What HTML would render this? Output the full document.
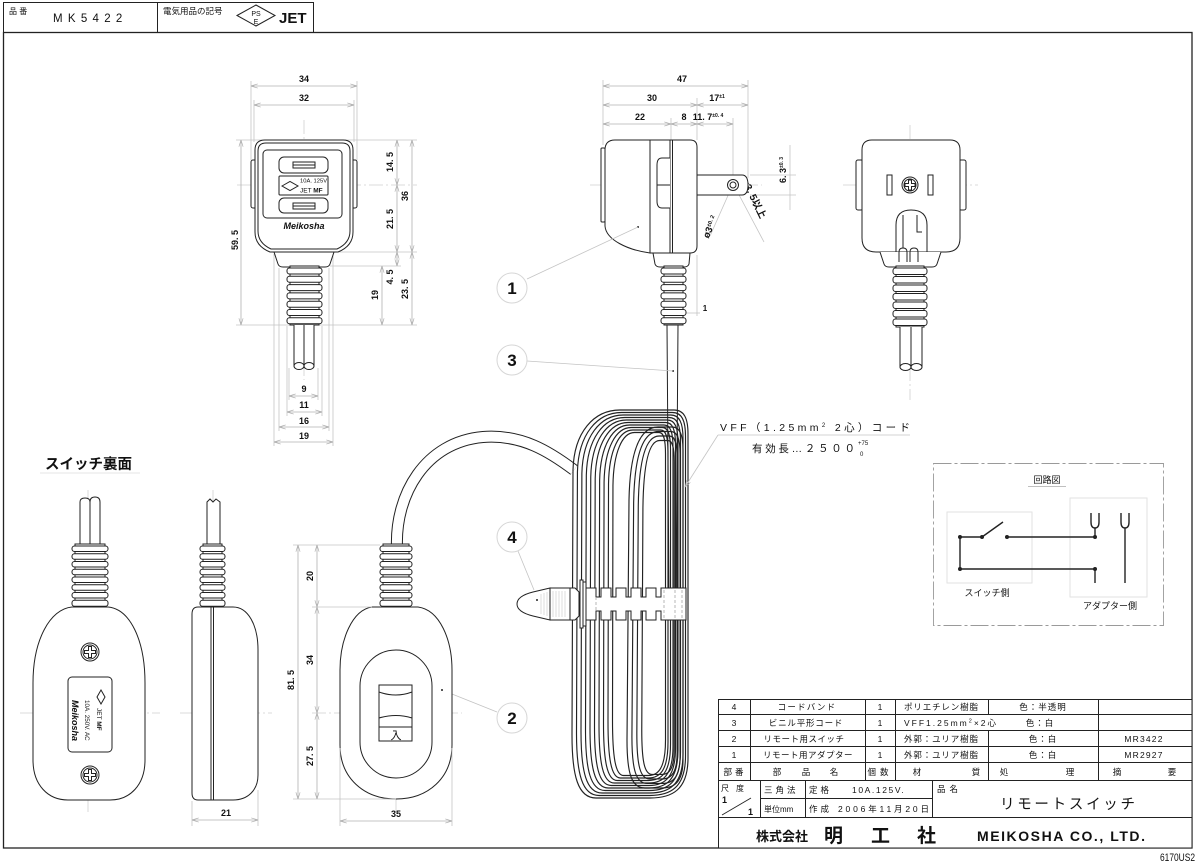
<!DOCTYPE html>
<html><head><meta charset="utf-8"><title>MK5422</title>
<style>
html,body{margin:0;padding:0;background:#fff;width:1200px;height:864px;overflow:hidden}
svg{display:block}
text{font-family:"Liberation Sans","Noto Sans CJK JP",sans-serif;fill:#111}
.k{fill:none;stroke:#222;stroke-width:1}
.kw{fill:#fff;stroke:#222;stroke-width:1}
.g{fill:none;stroke:#c4c4c4;stroke-width:0.8}
.cl{fill:none;stroke:#cfcfcf;stroke-width:0.8;stroke-dasharray:14 3 2 3}
.dm{fill:none;stroke:#b0b0b0;stroke-width:0.8;marker-start:url(#a);marker-end:url(#a)}
.d{font-size:9px;font-weight:bold;text-anchor:middle}
.t{font-size:8.5px;text-anchor:middle}
.ts{font-size:8.5px}
.bl{fill:#fff;stroke:#d6d6d6;stroke-width:1}
.bn{font-size:17px;font-weight:bold;text-anchor:middle}
</style></head><body>
<svg width="1200" height="864" viewBox="0 0 1200 864" xmlns="http://www.w3.org/2000/svg">
<defs>
<marker id="a" viewBox="0 0 8 6" refX="8" refY="3" markerWidth="7" markerHeight="5" orient="auto-start-reverse" markerUnits="userSpaceOnUse"><path d="M0,0.5L8,3L0,5.5" fill="none" stroke="#aaa" stroke-width="0.8"/></marker>
<path id="lp" d="M572,735 L573,470 C574,432 594,410 620,410 L674,410 C684,410 688,418 688,434 L688,758 C688,790 672,798 650,798 L596,798 C578,798 572,776 572,735Z" fill="none" stroke="#222" stroke-width="1.15" vector-effect="non-scaling-stroke"/>
<path id="lp2" d="M627,740 L629,500 C630,450 640,427 658,427 L672,427 C680,427 683,435 683,450 L683,760 C683,780 676,788 662,788 L645,788 C632,788 627,775 627,740Z" fill="none" stroke="#222" stroke-width="1.15" vector-effect="non-scaling-stroke"/>
</defs>

<!-- frame & header -->
<rect x="3.5" y="32.5" width="1188.5" height="815.5" fill="none" stroke="#222" stroke-width="1.3"/>
<rect x="3.5" y="2.5" width="310" height="30" class="k"/>
<line x1="157.5" y1="2.5" x2="157.5" y2="32.5" class="k"/>
<text x="9" y="14" style="font-size:8px">品 番</text>
<text x="53" y="22" style="font-size:11.5px;letter-spacing:5.3px">MK5422</text>
<text x="163" y="14" style="font-size:8.5px">電気用品の記号</text>
<polygon points="237,15.5 256,5 275,15.5 256,26" class="k"/>
<text x="256" y="16" style="font-size:7px" text-anchor="middle">PS</text>
<text x="256" y="24" style="font-size:7px" text-anchor="middle">E</text>
<text x="279" y="23" style="font-size:15px;font-weight:bold">JET</text>

<!-- ===== View A: adapter front ===== -->
<line class="cl" x1="304" y1="120" x2="304" y2="380"/>
<line class="cl" x1="237" y1="185" x2="417" y2="185"/>
<line class="g" x1="251" y1="81" x2="251" y2="160"/>
<line class="g" x1="357" y1="81" x2="357" y2="160"/>
<line class="g" x1="254" y1="100" x2="254" y2="142"/>
<line class="g" x1="354" y1="100" x2="354" y2="142"/>
<line class="dm" x1="251" y1="86" x2="357" y2="86"/>
<line class="dm" x1="254" y1="105" x2="354" y2="105"/>
<text class="d" x="304" y="82">34</text>
<text class="d" x="304" y="101">32</text>
<line class="g" x1="236" y1="140" x2="262" y2="140"/>
<line class="g" x1="345" y1="140" x2="417" y2="140"/>
<line class="g" x1="332" y1="252" x2="417" y2="252"/>
<line class="g" x1="330" y1="266" x2="401" y2="266"/>
<line class="g" x1="236" y1="325" x2="290" y2="325"/>
<line class="g" x1="318" y1="325" x2="417" y2="325"/>
<line class="dm" x1="241" y1="140" x2="241" y2="325"/>
<text class="d" transform="translate(238,240) rotate(-90)">59. 5</text>
<line class="dm" x1="397" y1="140" x2="397" y2="185"/>
<line class="dm" x1="397" y1="185" x2="397" y2="252"/>
<line class="dm" x1="397" y1="252" x2="397" y2="266"/>
<line class="dm" x1="412" y1="140" x2="412" y2="252"/>
<line class="dm" x1="412" y1="252" x2="412" y2="325"/>
<line class="dm" x1="382" y1="266" x2="382" y2="325"/>
<text class="d" transform="translate(393,162) rotate(-90)">14. 5</text>
<text class="d" transform="translate(393,219) rotate(-90)">21. 5</text>
<text class="d" transform="translate(408,196) rotate(-90)">36</text>
<text class="d" transform="translate(393,277) rotate(-90)">4. 5</text>
<text class="d" transform="translate(408,289) rotate(-90)">23. 5</text>
<text class="d" transform="translate(378,295) rotate(-90)">19</text>
<line class="g" x1="289" y1="368" x2="289" y2="400"/>
<line class="g" x1="318" y1="368" x2="318" y2="400"/>
<line class="g" x1="287" y1="326" x2="287" y2="416"/>
<line class="g" x1="322" y1="326" x2="322" y2="416"/>
<line class="g" x1="279" y1="268" x2="279" y2="431"/>
<line class="g" x1="329" y1="268" x2="329" y2="431"/>
<line class="g" x1="274" y1="254" x2="274" y2="446"/>
<line class="g" x1="333" y1="254" x2="333" y2="446"/>
<line class="dm" x1="289" y1="396" x2="318" y2="396"/>
<line class="dm" x1="287" y1="412" x2="322" y2="412"/>
<line class="dm" x1="279" y1="427" x2="329" y2="427"/>
<line class="dm" x1="274" y1="442" x2="333" y2="442"/>
<text class="d" x="304" y="392">9</text>
<text class="d" x="304" y="408">11</text>
<text class="d" x="304" y="424">16</text>
<text class="d" x="304" y="439">19</text>

<!-- body A -->
<rect class="kw" x="251" y="160" width="6" height="48" rx="2"/>
<rect class="kw" x="351" y="160" width="6" height="48" rx="2"/>
<path class="kw" d="M265,140 H343 Q353,140 353,150 V232 Q353,246 338,252 H270 Q255,246 255,232 V150 Q255,140 265,140Z"/>
<path class="k" d="M266,143 H342 Q350,143 350,151 V231 Q350,243 337,249 H271 Q258,243 258,231 V151 Q258,143 266,143Z"/>
<rect class="k" x="263" y="150" width="79" height="68" rx="4"/>
<rect class="k" x="279" y="157" width="49" height="16" rx="5"/>
<rect class="k" x="293" y="162" width="22" height="6"/>
<line class="k" x1="293" y1="165" x2="315" y2="165"/>
<rect class="k" x="279" y="176" width="49" height="19" rx="1"/>
<polygon class="k" points="282,186 290,181.5 298,186 290,190.5" stroke-width="0.6"/>
<text x="300" y="182.5" style="font-size:5.8px">10A. 125V</text>
<text x="300" y="192.5" style="font-size:6.5px">JET <tspan font-weight="bold">MF</tspan></text>
<rect class="k" x="279" y="198" width="49" height="15" rx="5"/>
<rect class="k" x="293" y="203" width="22" height="6"/>
<line class="k" x1="293" y1="206" x2="315" y2="206"/>
<text x="304" y="229" style="font-size:9px;font-weight:bold;font-style:italic" text-anchor="middle">Meikosha</text>
<path class="kw" d="M274,252 L278,264 Q279,267 283,267 H325 Q329,267 330,264 L334,252Z"/>
<!-- bellows A -->
<rect class="kw" x="290" y="266" width="29" height="59"/>
<rect class="kw" x="287" y="268" width="35" height="6" rx="2.5"/>
<rect class="kw" x="287" y="276.3" width="35" height="6" rx="2.5"/>
<rect class="kw" x="287" y="284.6" width="35" height="6" rx="2.5"/>
<rect class="kw" x="287" y="292.9" width="35" height="6" rx="2.5"/>
<rect class="kw" x="287" y="301.2" width="35" height="6" rx="2.5"/>
<rect class="kw" x="287" y="309.5" width="35" height="6" rx="2.5"/>
<rect class="kw" x="287" y="317.8" width="35" height="6" rx="2.5"/>
<path class="kw" d="M294,325 V366 H314 V325"/>
<line class="k" x1="304" y1="325" x2="304" y2="366"/>
<ellipse class="kw" cx="299" cy="366" rx="5" ry="3.5"/>
<ellipse class="kw" cx="309" cy="366" rx="5" ry="3.5"/>

<!-- ===== View B: adapter side ===== -->
<line class="cl" x1="590" y1="185" x2="762" y2="185"/>
<line class="g" x1="603" y1="80" x2="603" y2="145"/>
<line class="g" x1="671" y1="118" x2="671" y2="140"/>
<line class="g" x1="697" y1="98" x2="697" y2="140"/>
<line class="g" x1="748" y1="80" x2="748" y2="178"/>
<line class="g" x1="733" y1="118" x2="733" y2="180"/>
<line class="dm" x1="603" y1="86" x2="748" y2="86"/>
<line class="dm" x1="603" y1="105" x2="697" y2="105"/>
<line class="dm" x1="697" y1="105" x2="748" y2="105"/>
<line class="dm" x1="603" y1="124" x2="671" y2="124"/>
<line class="dm" x1="671" y1="124" x2="697" y2="124"/>
<line class="dm" x1="697" y1="124" x2="733" y2="124"/>
<text class="d" x="682" y="82">47</text>
<text class="d" x="652" y="101">30</text>
<text class="d" x="717" y="101">17<tspan font-size="5" dy="-3">±1</tspan></text>
<text class="d" x="640" y="120">22</text>
<text class="d" x="684" y="120">8</text>
<text class="d" x="708" y="120" text-anchor="start">11. 7<tspan font-size="5" dy="-3">±0. 4</tspan></text>
<line class="g" x1="750" y1="175" x2="796" y2="175"/>
<line class="g" x1="750" y1="195" x2="796" y2="195"/>
<line class="g" x1="790" y1="145" x2="790" y2="210"/>
<text class="d" transform="translate(786,170) rotate(-90)" text-anchor="start">6. 3<tspan font-size="5" dy="-3">±0. 3</tspan></text>
<line class="g" x1="730" y1="191" x2="710" y2="236"/>
<line class="g" x1="737" y1="191" x2="764" y2="242"/>
<text class="d" transform="translate(713,228) rotate(-68)" text-anchor="start" style="font-size:9.5px">ø3<tspan font-size="5.5" dy="-3">±0. 2</tspan></text>
<text class="d" transform="translate(751,200) rotate(64)" text-anchor="start" style="font-size:10px">ø3. 5以上</text>
<!-- body B -->
<rect class="kw" x="601" y="148" width="4" height="74" rx="1"/>
<path class="kw" d="M615,140 H650 V253 C628,250 606,240 605,226 V150 Q605,140 615,140Z"/>
<path class="kw" d="M650,140 H690 Q697,140 697,147 V246 Q697,253 690,253 H650Z"/>
<line class="k" x1="670" y1="140" x2="670" y2="253" stroke-width="1.3"/>
<line class="k" x1="672.5" y1="140" x2="672.5" y2="253" stroke-width="1.3"/>
<path class="kw" d="M670,158 H662 Q657,158 657,165 V201 Q657,208 662,208 H670"/>
<line class="k" x1="657" y1="185" x2="670" y2="185"/>
<path class="kw" d="M697,175 H742 Q748,175 748,185 Q748,195 742,195 H697Z"/>
<circle class="kw" cx="733" cy="185" r="5.5"/>
<circle class="k" cx="733" cy="185" r="3"/>
<circle cx="638" cy="227" r="1" fill="#222"/>
<path class="kw" d="M653,253 L655,264 Q656,267 660,267 H684 Q688,267 689,264 L690,253Z"/>
<line class="g" x1="697" y1="255" x2="697" y2="316"/>
<line class="g" x1="686" y1="313" x2="700" y2="313"/>
<text class="d" x="705" y="311" style="font-size:8px">1</text>

<!-- ===== cords & coil ===== -->
<path d="M397,547 C395,495 425,442 483,437 C522,434 550,452 574,470" fill="none" stroke="#222" stroke-width="12"/>
<path d="M397,547 C395,495 425,442 483,437 C522,434 550,452 574,470" fill="none" stroke="#fff" stroke-width="10"/>
<use href="#lp"/>
<use href="#lp" transform="translate(631,604) scale(0.9397,0.98711) translate(-630,-604)"/>
<use href="#lp" transform="translate(632,604) scale(0.8793,0.97423) translate(-630,-604)"/>
<use href="#lp" transform="translate(633,604) scale(0.8190,0.96134) translate(-630,-604)"/>
<use href="#lp" transform="translate(634,604) scale(0.7586,0.94845) translate(-630,-604)"/>
<use href="#lp" transform="translate(635,604) scale(0.6983,0.93557) translate(-630,-604)"/>
<use href="#lp" transform="translate(636,604) scale(0.6379,0.92268) translate(-630,-604)"/>
<use href="#lp" transform="translate(637,604) scale(0.5776,0.90979) translate(-630,-604)"/>
<use href="#lp" transform="translate(638,604) scale(0.5172,0.89691) translate(-630,-604)"/>
<use href="#lp" transform="translate(639,604) scale(0.4569,0.88402) translate(-630,-604)"/>
<use href="#lp2"/>
<use href="#lp2" transform="translate(656,607) scale(0.86,0.975) translate(-655,-607)"/>
<use href="#lp2" transform="translate(657,607) scale(0.72,0.95) translate(-655,-607)"/>
<use href="#lp2" transform="translate(658,607) scale(0.58,0.925) translate(-655,-607)"/>
<path d="M667,325 L669,600 M678,325 L676,600" class="k"/>
<circle cx="673" cy="371" r="1" fill="#222"/>

<!-- bellows B -->
<rect class="kw" x="664" y="266" width="19" height="59"/>
<rect class="kw" x="661" y="268" width="25" height="6" rx="2.5"/>
<rect class="kw" x="661" y="276.3" width="25" height="6" rx="2.5"/>
<rect class="kw" x="661" y="284.6" width="25" height="6" rx="2.5"/>
<rect class="kw" x="661" y="292.9" width="25" height="6" rx="2.5"/>
<rect class="kw" x="661" y="301.2" width="25" height="6" rx="2.5"/>
<rect class="kw" x="661" y="309.5" width="25" height="6" rx="2.5"/>
<rect class="kw" x="661" y="317.8" width="25" height="6" rx="2.5"/>

<!-- cord band -->
<path class="kw" d="M550,588 L533,592 Q517,596 517,604 Q517,612 533,616 L550,620Z"/>
<g stroke="#d0d0d0" stroke-width="0.7">
<line x1="541" y1="594" x2="541" y2="614"/><line x1="544" y1="593" x2="544" y2="615"/><line x1="547" y1="592" x2="547" y2="616"/>
<line x1="553" y1="591" x2="553" y2="617"/><line x1="556" y1="591" x2="556" y2="617"/><line x1="559" y1="591" x2="559" y2="617"/><line x1="562" y1="591" x2="562" y2="617"/><line x1="565" y1="591" x2="565" y2="617"/>
</g>
<rect class="k" x="550" y="588" width="20" height="32"/>
<circle cx="537" cy="600" r="1" fill="#222"/>
<path class="kw" d="M570,588 H575 L579,592 V616 L575,620 H570Z"/>
<rect class="kw" x="580" y="580" width="3" height="48"/>
<rect class="kw" x="583" y="582" width="3" height="44"/>
<path class="kw" d="M586,588 H596 V597 H601 V588 H611 V597 H616 V588 H626 V597 H631 V588 H641 V597 H646 V588 H656 V597 H661 V588 H686 V620 H661 V611 H656 V620 H646 V611 H641 V620 H631 V611 H626 V620 H616 V611 H611 V620 H601 V611 H596 V620 H586Z"/>
<g stroke="#999" stroke-width="0.7" stroke-dasharray="3 2">
<line x1="664" y1="590" x2="664" y2="618"/><line x1="675" y1="590" x2="675" y2="618"/><line x1="682" y1="590" x2="682" y2="618"/>
<line x1="596" y1="597" x2="596" y2="611"/>
</g>

<!-- balloons -->
<line class="g" x1="527" y1="279" x2="638" y2="227"/>
<line class="g" x1="527" y1="361" x2="673" y2="371"/>
<line class="g" x1="518" y1="551" x2="534" y2="590"/>
<line class="g" x1="497" y1="712" x2="442" y2="690"/>
<circle class="bl" cx="512" cy="288" r="15"/><text class="bn" x="512" y="294">1</text>
<circle class="bl" cx="512" cy="360" r="15"/><text class="bn" x="512" y="366">3</text>
<circle class="bl" cx="512" cy="537" r="15"/><text class="bn" x="512" y="543">4</text>
<circle class="bl" cx="512" cy="718" r="15"/><text class="bn" x="512" y="724">2</text>

<!-- VFF label -->
<text x="720" y="431" style="font-size:10.5px" textLength="190" lengthAdjust="spacing">VFF（1.25mm<tspan font-size="6" dy="-4">2</tspan><tspan dy="4"> 2心）コード</tspan></text>
<line class="g" x1="718" y1="435" x2="910" y2="435"/>
<line class="g" x1="718" y1="435" x2="685" y2="487" style="marker-end:url(#a)"/>
<text x="752" y="452" style="font-size:10.5px" textLength="103" lengthAdjust="spacing">有効長…２５００</text>
<text x="858" y="445" style="font-size:6px">+75</text>
<text x="860" y="456" style="font-size:6px">0</text>

<!-- ===== View C: plug front ===== -->
<line class="cl" x1="910" y1="125" x2="910" y2="400"/>
<line class="cl" x1="843" y1="185" x2="978" y2="185"/>
<rect class="kw" x="856" y="160" width="7" height="50" rx="2"/>
<rect class="kw" x="959" y="160" width="7" height="50" rx="2"/>
<path class="kw" d="M872,140 H950 Q960,140 960,150 V238 Q960,252 946,252 H876 Q862,252 862,238 V150 Q862,140 872,140Z"/>
<rect class="k" x="887" y="175" width="5" height="20"/>
<rect class="k" x="928" y="175" width="5" height="20"/>
<circle class="kw" cx="910" cy="185" r="8"/>
<circle class="k" cx="910" cy="185" r="6"/>
<path class="k" d="M908.5,180 H911.5 V183.5 H915 V186.5 H911.5 V190 H908.5 V186.5 H905 V183.5 H908.5Z" stroke-width="0.8"/>
<path class="k" d="M896,256 V225 Q896,210 911,210 Q927,210 927,225 V256"/>
<line class="k" x1="903" y1="215" x2="903" y2="248"/>
<path class="k" d="M917,215 V232 H922"/>
<path class="kw" d="M880,252 L884,264 Q885,267 889,267 H932 Q936,267 937,264 L941,252"/>
<path class="k" d="M899,262 V252 Q899,248 903,248 Q907,248 907,252 V262 M910,262 V252 Q910,248 914,248 Q918,248 918,252 V262"/>
<rect class="kw" x="896" y="266" width="28" height="61"/>
<rect class="kw" x="893" y="268" width="34" height="6.5" rx="2.5"/>
<rect class="kw" x="893" y="276.5" width="34" height="6.5" rx="2.5"/>
<rect class="kw" x="893" y="285" width="34" height="6.5" rx="2.5"/>
<rect class="kw" x="893" y="293.5" width="34" height="6.5" rx="2.5"/>
<rect class="kw" x="893" y="302" width="34" height="6.5" rx="2.5"/>
<rect class="kw" x="893" y="310.5" width="34" height="6.5" rx="2.5"/>
<rect class="kw" x="893" y="319" width="34" height="6.5" rx="2.5"/>
<path class="kw" d="M900,327 V367 H922 V327"/>
<line class="k" x1="911" y1="327" x2="911" y2="367"/>
<ellipse class="kw" cx="905.5" cy="367" rx="5.5" ry="3.5"/>
<ellipse class="kw" cx="916.5" cy="367" rx="5.5" ry="3.5"/>

<!-- ===== circuit diagram ===== -->
<rect x="933.5" y="463.5" width="230" height="162" fill="none" stroke="#9a9a9a" stroke-width="0.9" stroke-dasharray="18 3 3 3"/>
<text x="1047" y="483" style="font-size:9px" text-anchor="middle">回路図</text>
<line x1="1028" y1="486.5" x2="1066" y2="486.5" stroke="#aaa" stroke-width="0.8"/>
<rect x="947" y="512" width="85" height="71" fill="none" stroke="#e2e2e2"/>
<rect x="1070" y="498" width="77" height="99" fill="none" stroke="#e2e2e2"/>
<g fill="none" stroke="#222" stroke-width="1.4">
<path d="M960,537 H982 L1003,522"/>
<path d="M1007,537 H1095 V528"/>
<path d="M1091,513 V522 Q1091,528 1095,528 Q1099,528 1099,522 V513"/>
<path d="M960,537 V569 H1095 V583"/>
<path d="M1121,513 V522 Q1121,528 1125,528 Q1129,528 1129,522 V513 M1125,528 V583"/>
</g>
<g fill="#222"><circle cx="960" cy="537" r="2"/><circle cx="982" cy="537" r="2"/><circle cx="1007" cy="537" r="2"/><circle cx="1095" cy="537" r="2"/><circle cx="960" cy="569" r="2"/><circle cx="1095" cy="569" r="2"/></g>
<text x="987" y="596" style="font-size:9px" text-anchor="middle">スイッチ側</text>
<text x="1110" y="609" style="font-size:9px" text-anchor="middle">アダプター側</text>

<!-- ===== View D: switch back ===== -->
<text x="45" y="469" style="font-size:14.5px;font-weight:bold">スイッチ裏面</text>
<line x1="40" y1="473" x2="140" y2="473" stroke="#ddd" stroke-width="0.8"/>
<line class="cl" x1="88" y1="490" x2="88" y2="815"/>
<line class="cl" x1="20" y1="713" x2="160" y2="713"/>
<path class="kw" d="M80,548 V502 Q80,498 85,498 Q90,498 90,502 V548"/>
<path class="kw" d="M90,548 V502 Q90,497 95,497 Q100,497 100,502 V548"/>
<path class="kw" d="M72,607 H108 C130,609 145,640 145,683 V760 C145,785 130,800 110,800 H68 C48,800 33,785 33,760 V683 C33,640 50,609 72,607Z"/>
<rect class="kw" x="75" y="544" width="30" height="63"/>
<rect class="kw" x="72" y="546" width="36" height="5.5" rx="2.5"/>
<rect class="kw" x="72" y="553.75" width="36" height="5.5" rx="2.5"/>
<rect class="kw" x="72" y="561.5" width="36" height="5.5" rx="2.5"/>
<rect class="kw" x="72" y="569.25" width="36" height="5.5" rx="2.5"/>
<rect class="kw" x="72" y="577" width="36" height="5.5" rx="2.5"/>
<rect class="kw" x="72" y="584.75" width="36" height="5.5" rx="2.5"/>
<rect class="kw" x="72" y="592.5" width="36" height="5.5" rx="2.5"/>
<rect class="kw" x="72" y="600.25" width="36" height="6" rx="2.5"/>
<circle class="kw" cx="90" cy="652" r="9"/><circle class="k" cx="90" cy="652" r="7"/>
<path class="k" d="M88.5,646.5 H91.5 V650.5 H95.5 V653.5 H91.5 V657.5 H88.5 V653.5 H84.5 V650.5 H88.5Z" stroke-width="0.8"/>
<circle class="kw" cx="90" cy="775" r="9"/><circle class="k" cx="90" cy="775" r="7"/>
<path class="k" d="M88.5,769.5 H91.5 V773.5 H95.5 V776.5 H91.5 V780.5 H88.5 V776.5 H84.5 V773.5 H88.5Z" stroke-width="0.8"/>
<rect class="kw" x="68" y="677" width="44" height="75" rx="4"/>
<polygon class="k" points="101,690 105,697 101,704 97,697" stroke-width="0.6"/>
<text transform="translate(97,708) rotate(90)" style="font-size:6.5px">JET <tspan font-weight="bold">MF</tspan></text>
<text transform="translate(85,700) rotate(90)" style="font-size:6.3px">10A. 250V. AC</text>
<text transform="translate(72,700) rotate(90)" style="font-size:9px;font-weight:bold;font-style:italic">Meikosha</text>

<!-- ===== View E: switch side ===== -->
<line class="cl" x1="213" y1="490" x2="213" y2="545"/>
<line class="cl" x1="180" y1="713" x2="272" y2="713"/>
<path class="kw" d="M207,548 V502 L210,499 L213,502 L216,499 L220,502 V548"/>
<rect class="kw" x="203" y="544" width="19" height="63"/>
<rect class="kw" x="200" y="546" width="25" height="5.5" rx="2.5"/>
<rect class="kw" x="200" y="553.75" width="25" height="5.5" rx="2.5"/>
<rect class="kw" x="200" y="561.5" width="25" height="5.5" rx="2.5"/>
<rect class="kw" x="200" y="569.25" width="25" height="5.5" rx="2.5"/>
<rect class="kw" x="200" y="577" width="25" height="5.5" rx="2.5"/>
<rect class="kw" x="200" y="584.75" width="25" height="5.5" rx="2.5"/>
<rect class="kw" x="200" y="592.5" width="25" height="5.5" rx="2.5"/>
<rect class="kw" x="200" y="600.25" width="25" height="6" rx="2.5"/>
<path class="kw" d="M198,607 H233 C248,607 258,625 258,650 V775 C258,790 248,800 233,800 H198 Q192,800 192,793 V614 Q192,607 198,607Z"/>
<line class="k" x1="211" y1="607" x2="211" y2="800" stroke-width="1.2"/>
<line class="k" x1="213.5" y1="607" x2="213.5" y2="800" stroke-width="1.2"/>
<line class="g" x1="192" y1="801" x2="192" y2="826"/>
<line class="g" x1="258" y1="790" x2="258" y2="826"/>
<line class="dm" x1="192" y1="820" x2="258" y2="820"/>
<text class="d" x="226" y="816">21</text>

<!-- ===== View F: switch front ===== -->
<line class="cl" x1="396" y1="600" x2="396" y2="812"/>
<line class="cl" x1="312" y1="713" x2="462" y2="713"/>
<rect class="kw" x="383" y="544" width="26" height="63"/>
<rect class="kw" x="380" y="546" width="32" height="5.5" rx="2.5"/>
<rect class="kw" x="380" y="553.75" width="32" height="5.5" rx="2.5"/>
<rect class="kw" x="380" y="561.5" width="32" height="5.5" rx="2.5"/>
<rect class="kw" x="380" y="569.25" width="32" height="5.5" rx="2.5"/>
<rect class="kw" x="380" y="577" width="32" height="5.5" rx="2.5"/>
<rect class="kw" x="380" y="584.75" width="32" height="5.5" rx="2.5"/>
<rect class="kw" x="380" y="592.5" width="32" height="5.5" rx="2.5"/>
<rect class="kw" x="380" y="600.25" width="32" height="6" rx="2.5"/>
<path class="kw" d="M372,607 H418 C440,610 452,640 452,670 V745 C452,778 428,799 396,799 C364,799 340,778 340,745 V670 C340,640 352,610 372,607Z"/>
<rect class="k" x="360" y="650" width="72" height="128" rx="36"/>
<rect class="kw" x="379" y="685" width="33" height="56"/>
<path class="k" d="M379,692 Q396,698 412,692 M379,718 Q396,713 412,718"/>
<line class="k" x1="379" y1="727" x2="412" y2="727"/>
<text x="396" y="739" style="font-size:11px" text-anchor="middle">入</text>
<circle cx="442" cy="690" r="1" fill="#222"/>
<line class="g" x1="293" y1="545" x2="380" y2="545"/>
<line class="g" x1="312" y1="607" x2="372" y2="607"/>
<line class="g" x1="293" y1="799" x2="396" y2="799"/>
<line class="dm" x1="298" y1="545" x2="298" y2="799"/>
<line class="dm" x1="317" y1="545" x2="317" y2="607"/>
<line class="dm" x1="317" y1="607" x2="317" y2="713"/>
<line class="dm" x1="317" y1="713" x2="317" y2="799"/>
<text class="d" transform="translate(294,680) rotate(-90)">81. 5</text>
<text class="d" transform="translate(313,576) rotate(-90)">20</text>
<text class="d" transform="translate(313,660) rotate(-90)">34</text>
<text class="d" transform="translate(313,756) rotate(-90)">27. 5</text>
<line class="g" x1="340" y1="748" x2="340" y2="826"/>
<line class="g" x1="452" y1="748" x2="452" y2="826"/>
<line class="dm" x1="340" y1="821" x2="452" y2="821"/>
<text class="d" x="396" y="817">35</text>

<!-- ===== parts table ===== -->
<g fill="none" stroke="#222" stroke-width="1">
<rect x="718.5" y="699.5" width="473.5" height="148.5" fill="#fff"/>
<line x1="718" y1="714.5" x2="1192" y2="714.5"/>
<line x1="718" y1="730.5" x2="1192" y2="730.5"/>
<line x1="718" y1="746.5" x2="1192" y2="746.5"/>
<line x1="718" y1="762.5" x2="1192" y2="762.5"/>
<line x1="718" y1="780.5" x2="1192" y2="780.5"/>
<line x1="718" y1="817.5" x2="1192" y2="817.5"/>
<line x1="760" y1="798.5" x2="932" y2="798.5"/>
<line x1="750.5" y1="699" x2="750.5" y2="780"/>
<line x1="865.5" y1="699" x2="865.5" y2="780"/>
<line x1="895.5" y1="699" x2="895.5" y2="780"/>
<line x1="988.5" y1="699" x2="988.5" y2="714"/>
<line x1="988.5" y1="730" x2="988.5" y2="780"/>
<line x1="1098.5" y1="699" x2="1098.5" y2="780"/>
<line x1="760.5" y1="780" x2="760.5" y2="817"/>
<line x1="805.5" y1="780" x2="805.5" y2="817"/>
<line x1="932.5" y1="780" x2="932.5" y2="817"/>
</g>
<text class="t" x="734" y="710">4</text>
<text class="t" x="807" y="710" style="letter-spacing:1.2px">コードバンド</text>
<text class="t" x="880" y="710">1</text>
<text class="ts" x="904" y="710" textLength="74">ポリエチレン樹脂</text>
<text class="t" x="1043" y="710" style="letter-spacing:1px">色：半透明</text>

<text class="t" x="734" y="726">3</text>
<text class="t" x="806" y="726" style="letter-spacing:0.8px">ビニル平形コード</text>
<text class="t" x="880" y="726">1</text>
<text class="ts" x="904" y="726" style="letter-spacing:2px">VFF1.25mm<tspan font-size="5.5" dy="-3.5">2</tspan><tspan dy="3.5">×2心</tspan></text>
<text class="t" x="1040" y="726" style="letter-spacing:1px">色：白</text>

<text class="t" x="734" y="742">2</text>
<text class="t" x="804" y="742" style="letter-spacing:0.5px">リモート用スイッチ</text>
<text class="t" x="880" y="742">1</text>
<text class="ts" x="904" y="742" textLength="74">外郭：ユリア樹脂</text>
<text class="t" x="1043" y="742" style="letter-spacing:1px">色：白</text>
<text class="t" x="1144" y="742" style="letter-spacing:1.2px">MR3422</text>

<text class="t" x="734" y="758">1</text>
<text class="t" x="808" y="758" style="letter-spacing:0.5px">リモート用アダプター</text>
<text class="t" x="880" y="758">1</text>
<text class="ts" x="904" y="758" textLength="74">外郭：ユリア樹脂</text>
<text class="t" x="1043" y="758" style="letter-spacing:1px">色：白</text>
<text class="t" x="1144" y="758" style="letter-spacing:1.2px">MR2927</text>

<text class="t" x="735" y="775" style="letter-spacing:3px">部番</text>
<text class="t" x="777" y="775">部</text><text class="t" x="806" y="775">品</text><text class="t" x="834" y="775">名</text>
<text class="t" x="880" y="775" style="letter-spacing:4px">個数</text>
<text class="t" x="917" y="775">材</text><text class="t" x="976" y="775">質</text>
<text class="t" x="1004" y="775">処</text><text class="t" x="1070" y="775">理</text>
<text class="t" x="1117" y="775">摘</text><text class="t" x="1172" y="775">要</text>

<text class="ts" x="721" y="791" style="font-size:8px;letter-spacing:7px">尺度</text>
<text x="722" y="803" style="font-size:9px;font-weight:bold">1</text>
<line x1="722" y1="815" x2="751" y2="798" stroke="#222" stroke-width="0.9"/>
<text x="748" y="815" style="font-size:9px;font-weight:bold">1</text>
<text class="ts" x="764" y="793" style="letter-spacing:3px">三角法</text>
<text class="ts" x="764" y="812" style="font-size:8px">単位mm</text>
<text class="ts" x="809" y="793" style="letter-spacing:3px">定格</text>
<text class="ts" x="852" y="793" style="letter-spacing:1.6px">10A.125V.</text>
<text class="ts" x="809" y="812" style="letter-spacing:3px">作成</text>
<text class="ts" x="838" y="812" textLength="91">2006年11月20日</text>
<text class="ts" x="937" y="792" style="letter-spacing:4px">品名</text>
<text x="1000" y="809" style="font-size:14.5px" textLength="135">リモートスイッチ</text>

<text x="756" y="841" style="font-size:13px;font-weight:bold">株式会社</text>
<text x="824" y="842" style="font-size:19px;font-weight:bold">明</text>
<text x="871" y="842" style="font-size:19px;font-weight:bold">工</text>
<text x="917" y="842" style="font-size:19px;font-weight:bold">社</text>
<text x="977" y="841" style="font-size:14px;font-weight:bold" textLength="168">MEIKOSHA CO., LTD.</text>
<text x="1160" y="861" style="font-size:11px" textLength="35" lengthAdjust="spacingAndGlyphs">6170US2</text>
</svg>
</body></html>
